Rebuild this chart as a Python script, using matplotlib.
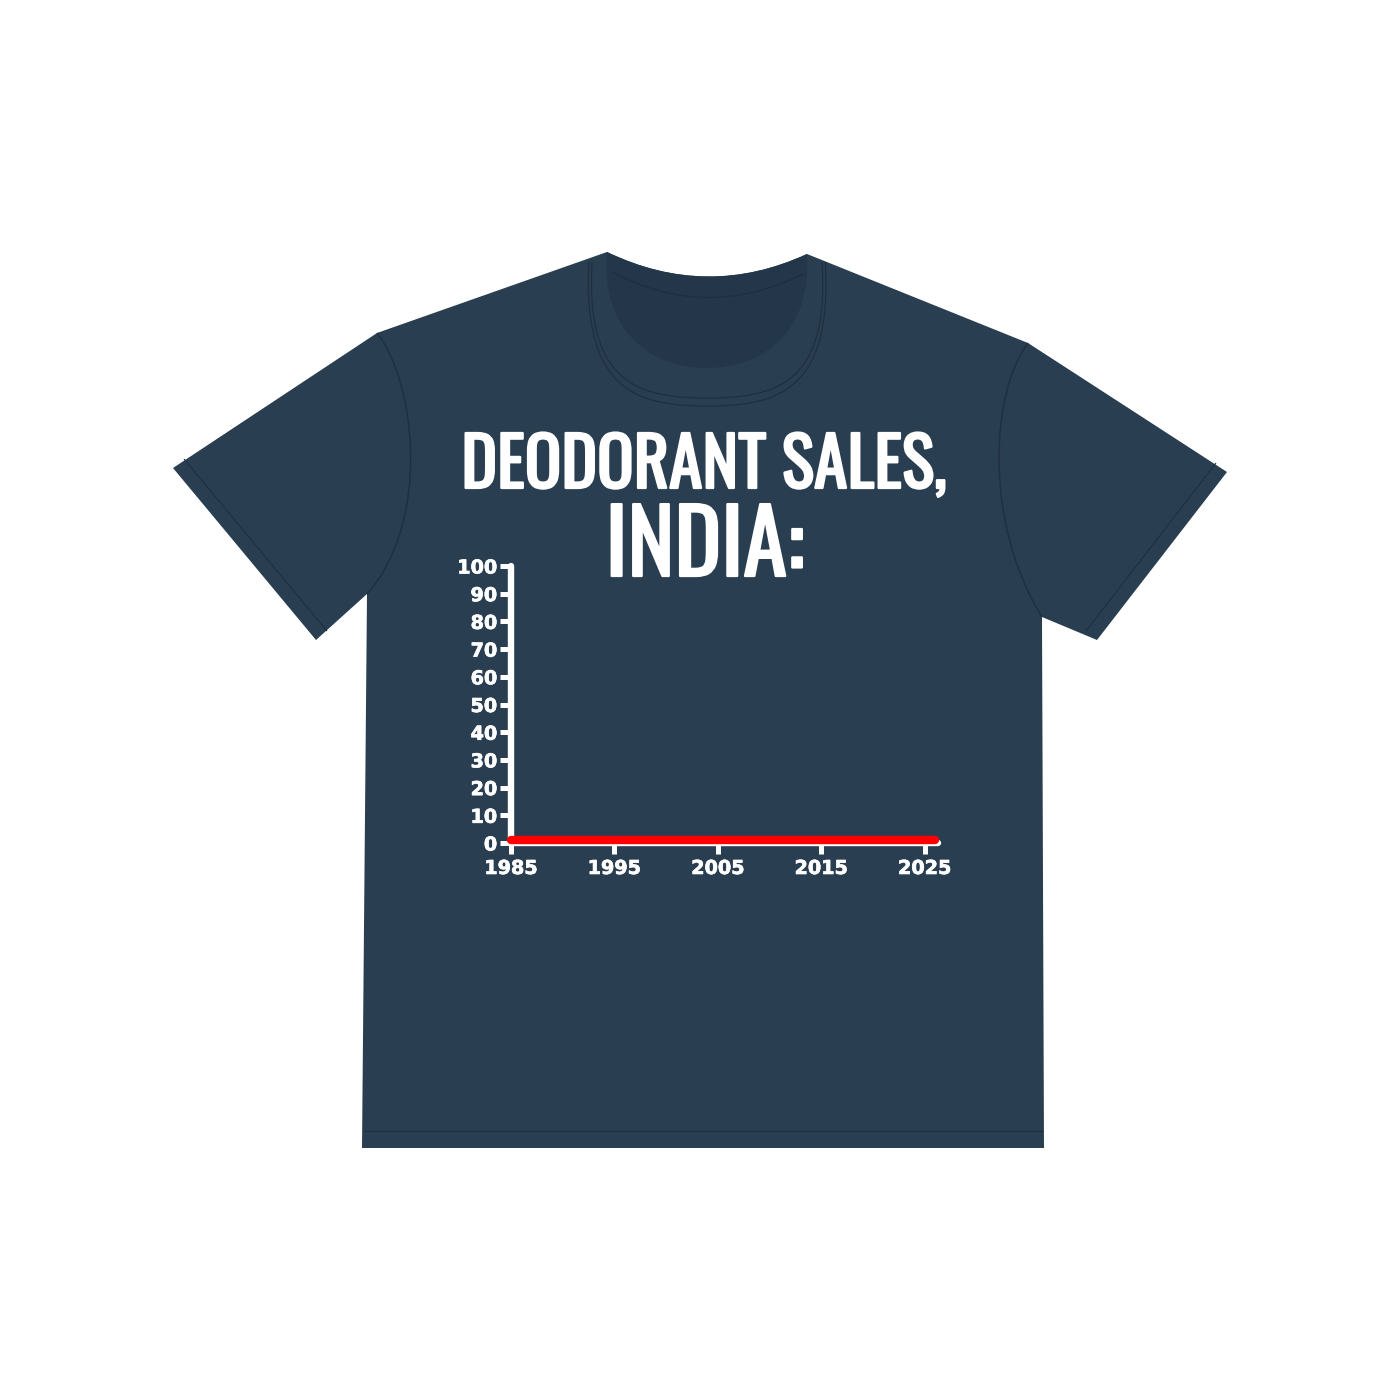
import matplotlib
matplotlib.use("Agg")
import matplotlib.pyplot as plt
from matplotlib.path import Path
from matplotlib.patches import PathPatch
from matplotlib import font_manager as fm
import matplotlib.patheffects as pe

# ---- data ----
title_line1 = "DEODORANT SALES,"
title_line2 = "INDIA:"
years = [1985, 1995, 2005, 2015, 2026]
sales = [1.2, 1.2, 1.2, 1.2, 1.2]
x_ticks = [1985, 1995, 2005, 2015, 2025]
x_labels = ["1985", "1995", "2005", "2015", "2025"]
y_ticks = [0, 10, 20, 30, 40, 50, 60, 70, 80, 90, 100]
y_labels = ["0", "10", "20", "30", "40", "50", "60", "70", "80", "90", "100"]

SHIRT = "#2a3e51"
INNER = "#23364a"
SEAM = "#1e2f40"
W = H = 1400

names = {f.name for f in fm.fontManager.ttflist}
title_font = "DejaVu Sans"
for cand in ["Oswald", "Bebas Neue", "Roboto Condensed", "Liberation Sans Narrow", "DejaVu Sans"]:
    if cand in names:
        title_font = cand
        break

fig = plt.figure(figsize=(14, 14), dpi=100, facecolor="white")

def P(x, y):
    return (x / W, 1 - y / H)

def add_path(verts, codes, **kw):
    path = Path([P(*v) for v in verts], codes)
    p = PathPatch(path, transform=fig.transFigure, zorder=-5, **kw)
    fig.patches.append(p)

M, L, C3, C4, CL = Path.MOVETO, Path.LINETO, Path.CURVE3, Path.CURVE4, Path.CLOSEPOLY

outline = [(607, 252), (377, 333), (173, 468), (316, 640), (367, 594),
           (362, 1148), (1044, 1148), (1042, 617), (1097, 640), (1227, 472),
           (1028, 343), (807, 254), (707, 300), (607, 252), (607, 252)]
codes = [M, L, L, L, L, L, L, L, L, L, L, L, C3, C3, CL]
add_path(outline, codes, facecolor=SHIRT, edgecolor="none")

inner = [(607, 252), (707, 300), (807, 254),
         (812, 330), (765, 368), (707, 368),
         (650, 368), (600, 330), (607, 252), (607, 252)]
add_path(inner, [M, C3, C3, C4, C4, C4, C4, C4, C4, CL],
         facecolor=INNER, edgecolor="none")
add_path([(612, 272), (707, 322), (803, 274)], [M, C3, C3],
         facecolor="none", edgecolor=SEAM, lw=1.0)
for off in (0, 8):
    add_path([(592 - off * 0.4, 262), (585 - off * 0.4, 385 + off), (640, 398 + off), (707, 398 + off),
              (775, 398 + off), (830 + off * 0.4, 385 + off), (822 + off * 0.4, 262)],
             [M, C4, C4, C4, C4, C4, C4], facecolor="none", edgecolor=SEAM, lw=0.9)
add_path([(377, 333), (415, 380), (432, 520), (367, 594)], [M, C4, C4, C4],
         facecolor="none", edgecolor=SEAM, lw=1.0)
add_path([(1028, 343), (992, 390), (982, 520), (1042, 617)], [M, C4, C4, C4],
         facecolor="none", edgecolor=SEAM, lw=1.0)
add_path([(184, 459), (327, 631)], [M, L], facecolor="none", edgecolor=SEAM, lw=0.8)
add_path([(1216, 463), (1086, 631)], [M, L], facecolor="none", edgecolor=SEAM, lw=0.8)
add_path([(364, 1131), (1043, 1131)], [M, L], facecolor="none", edgecolor=SEAM, lw=0.8)

# ---- chart ----
ax = fig.add_axes([511 / W, 1 - 843 / H, (938 - 511) / W, (843 - 566) / H])
ax.set_zorder(5)
ax.patch.set_alpha(0)
ax.set_xlim(1985, 2026.3)
ax.set_ylim(0, 100)
for s in ("top", "right"):
    ax.spines[s].set_visible(False)
for s in ("left", "bottom"):
    ax.spines[s].set_color("white")
    ax.spines[s].set_linewidth(4.6)
    ax.spines[s].set_capstyle("round")
ax.plot(years, sales, color="#ff0000", lw=6.0, solid_capstyle="round",
        clip_on=False, zorder=5)
ax.set_xticks(x_ticks)
ax.set_xticklabels(x_labels)
ax.set_yticks(y_ticks)
ax.set_yticklabels(y_labels)
ax.tick_params(axis="both", colors="white", direction="out", length=8, width=3.6,
               labelsize=13.8)
ax.tick_params(axis="x", pad=3.5)
ax.tick_params(axis="y", pad=2)
for lab in ax.get_xticklabels() + ax.get_yticklabels():
    lab.set_fontweight("bold")
    lab.set_fontfamily("DejaVu Sans")
    lab.set_path_effects([pe.withStroke(linewidth=0.5, foreground="white")])

# ---- title (Oswald is regular only: embolden with a thin white stroke) ----
STROKE = 1.6  # points
t1 = fig.text(704 / W, 1 - 488 / H, title_line1, ha="center", va="baseline",
              color="white", fontsize=50, fontweight="bold", family=title_font, zorder=6)
t2 = fig.text(705 / W, 1 - 576 / H, title_line2, ha="center", va="baseline",
              color="white", fontsize=57, fontweight="bold", family=title_font, zorder=6)
fig.canvas.draw()
r = fig.canvas.get_renderer()
stroke_px = STROKE * 100 / 72
for t, target in ((t1, 488), (t2, 201)):
    bw = t.get_window_extent(r).width
    t.set_fontsize(t.get_fontsize() * (target - stroke_px) / bw)
    t.set_path_effects([pe.withStroke(linewidth=STROKE, foreground="white")])

fig.savefig("out.png", dpi=100, facecolor="white")
